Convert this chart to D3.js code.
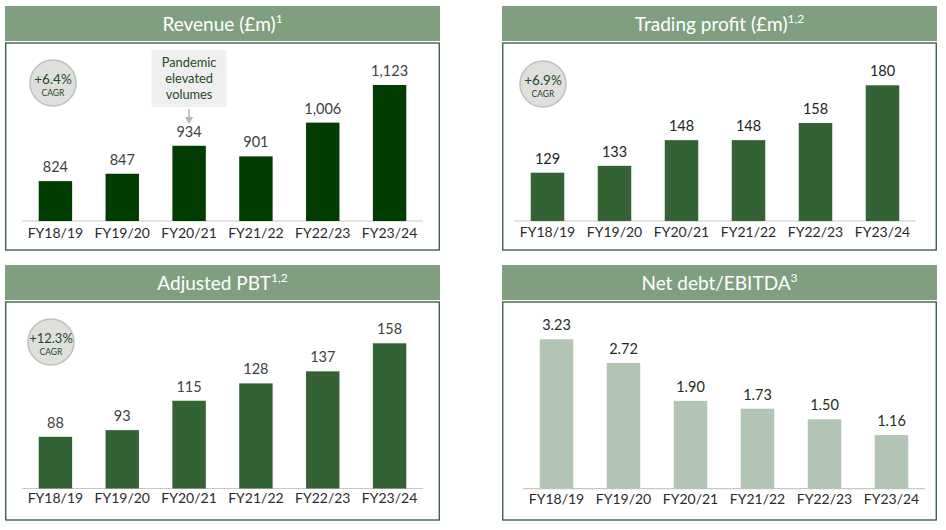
<!DOCTYPE html>
<html><head><meta charset="utf-8">
<script src="https://cdn.jsdelivr.net/npm/d3@7"></script>
<style>
html,body{margin:0;padding:0;background:#fff;}
text{font-family:Lato,"Open Sans",sans-serif;}
</style></head><body>
<svg id="c" width="946" height="530"></svg>
<script>
const categories = ["FY18/19","FY19/20","FY20/21","FY21/22","FY22/23","FY23/24"];
const revenue = [824, 847, 934, 901, 1006, 1123];
const revenueLabels = ["824","847","934","901","1,006","1,123"];
const tradingProfit = [129, 133, 148, 148, 158, 180];
const adjustedPBT = [88, 93, 115, 128, 137, 158];
const netDebtEbitda = [3.23, 2.72, 1.90, 1.73, 1.50, 1.16];
const cagrs = ["+6.4%", "+6.9%", "+12.3%"];
const annotation = ["Pandemic", "elevated", "volumes"];

const svg = d3.select("#c");

const panels = [
  {title:"Revenue (£m)", sup:"1", x:5, y:6, w:435, values:revenue, labels:revenueLabels,
   yMin:700, color:"#013d01", labelColor:"#404040", cagr:cagrs[0], base:221, scaleTop:[1123,85],
   x0:22, x1:423, catY:241, circle:[53,83]},
  {title:"Trading profit (£m)", sup:"1,2", x:502, y:6, w:435, values:tradingProfit, labels:tradingProfit.map(String),
   yMin:100.8, color:"#336234", labelColor:"#1c261c", cagr:cagrs[1], base:221, scaleTop:[180,85.3],
   x0:514, x1:916, catY:240, circle:[543,84]},
  {title:"Adjusted PBT", sup:"1,2", x:5, y:265, w:435, values:adjustedPBT, labels:adjustedPBT.map(String),
   yMin:49.3, color:"#336234", labelColor:"#404040", cagr:cagrs[2], base:488.5, scaleTop:[158,343.3],
   x0:22, x1:423, catY:506, circle:[51,342]},
  {title:"Net debt/EBITDA", sup:"3", x:502, y:265, w:435, values:netDebtEbitda, labels:netDebtEbitda.map(d=>d.toFixed(2)),
   yMin:0, color:"#b2c5b4", labelColor:"#1e2e1e", cagr:null, base:488.7, scaleTop:[3.23,339.3],
   x0:523, x1:925, catY:507, circle:null}
];

panels.forEach((p,i)=>{
  const g = svg.append("g");
  g.append("rect").attr("x",p.x).attr("y",p.y).attr("width",p.w).attr("height",35).attr("fill","#7f9f7f");
  const t = g.append("text").attr("x",p.x+p.w/2).attr("y",p.y+24.5).attr("text-anchor","middle")
    .attr("fill","#fff").attr("font-size",19);
  t.append("tspan").text(p.title);
  t.append("tspan").text(p.sup).attr("font-size",12).attr("dy",-8);
  g.append("rect").attr("x",p.x+0.75).attr("y",p.y+37).attr("width",p.w-1.5).attr("height",p.y<100?207:218)
    .attr("fill","#fff").attr("stroke","#34553a").attr("stroke-width",1.3);

  const x = d3.scaleBand().domain(categories).range([p.x0, p.x1]).paddingInner(0.5).paddingOuter(0.25);
  const y = d3.scaleLinear().domain([p.yMin, p.scaleTop[0]]).range([p.base, p.scaleTop[1]]);

  g.append("line").attr("x1",p.x0).attr("x2",p.x1).attr("y1",p.base).attr("y2",p.base)
    .attr("stroke","#c8c8c8").attr("stroke-width",1.2);

  g.selectAll("rect.bar").data(p.values).enter().append("rect").attr("class","bar")
    .attr("x",(d,j)=>x(categories[j])).attr("width",x.bandwidth())
    .attr("y",d=>y(d)).attr("height",d=>p.base-y(d)).attr("fill",p.color);

  g.selectAll("text.val").data(p.values).enter().append("text").attr("class","val")
    .attr("x",(d,j)=>x(categories[j])+x.bandwidth()/2).attr("y",d=>y(d)-9)
    .attr("text-anchor","middle").attr("font-size",14.5).attr("fill",p.labelColor)
    .text((d,j)=>p.labels[j]);

  const ax = g.append("g").attr("transform",`translate(0,${p.catY-12.5})`)
    .call(d3.axisBottom(x).tickSize(0).tickPadding(0));
  ax.select(".domain").remove();
  ax.selectAll("text").attr("font-size",14).attr("fill","#2a2a2a").attr("font-family","Lato,'Open Sans',sans-serif").attr("dy","0.71em");

  if(p.circle){
    g.append("circle").attr("cx",p.circle[0]).attr("cy",p.circle[1]).attr("r",23)
      .attr("fill","#dfe0dd").attr("stroke","#bfc2bd").attr("stroke-width",1.6);
    g.append("text").attr("x",p.circle[0]).attr("y",p.circle[1]+1).attr("text-anchor","middle")
      .attr("font-size",p.cagr.length>5?13:13.5).attr("fill","#1f4a1f").text(p.cagr);
    g.append("text").attr("x",p.circle[0]).attr("y",p.circle[1]+13).attr("text-anchor","middle")
      .attr("font-size",8.5).attr("fill","#1f4a1f").text("CAGR");
  }

  if(i===0){
    const cx = x(categories[2])+x.bandwidth()/2;
    g.append("rect").attr("x",cx-37.5).attr("y",50).attr("width",75).attr("height",57).attr("fill","#efefef");
    annotation.forEach((s,k)=>{
      g.append("text").attr("x",cx).attr("y",67+k*16).attr("text-anchor","middle")
        .attr("font-size",12.8).attr("fill","#1f4a1f").text(s);
    });
    g.append("line").attr("x1",cx).attr("x2",cx).attr("y1",109).attr("y2",120).attr("stroke","#b8b8b8").attr("stroke-width",1.5);
    g.append("path").attr("d",`M${cx-4},117 L${cx+4},117 L${cx},124 Z`).attr("fill","#b8b8b8");
  }
});
</script>
</body></html>
